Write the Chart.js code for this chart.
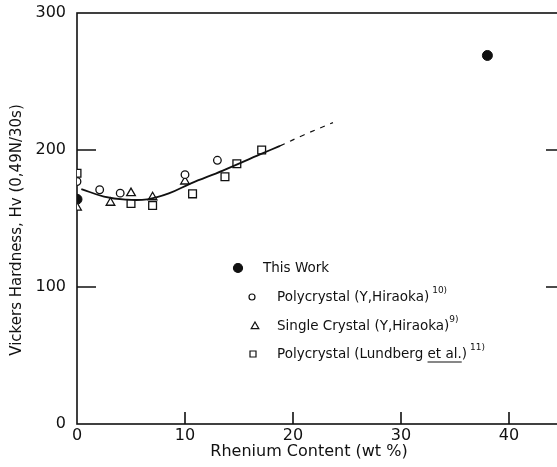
<!DOCTYPE html>
<html>
<head>
<meta charset="utf-8">
<script src="https://cdn.jsdelivr.net/npm/chart.js@4.4.0/dist/chart.umd.min.js"></script>
<style>
html, body { margin: 0; padding: 0; background: #fff; overflow: hidden; }
#wrap { width: 580px; height: 467px; }
</style>
</head>
<body>
<div id="wrap"><canvas id="hardnessChart" width="580" height="467"></canvas></div>
<script>
// values: [Re wt%, Hv]
const thisWork = [[0, 164], [38, 269]];
const polyHiraoka = [[0, 177], [2.1, 171], [4, 168.5], [10, 182], [13, 192.5]];
const singleHiraoka = [[0, 158], [3.1, 161.5], [5, 168.5], [7, 165.5], [10, 177]];
const polyLundberg = [[0, 183], [5, 161], [7, 159.5], [10.7, 168], [13.7, 180.5], [14.8, 190], [17.1, 200]];
const fitSolid = [[0.4, 171.5], [2.5, 166], [4.5, 163.8], [6.5, 164], [8.5, 168.3], [10.5, 175.5], [13.5, 185], [17, 197], [18.8, 203]];
const fitDashed = [[18.8, 203], [21, 211], [23.7, 220]];

const xTicks = [0, 10, 20, 30, 40];
const yTicks = [0, 100, 200, 300];

const legendNames = ['This Work', 'Polycrystal (Y,Hiraoka)', 'Single Crystal (Y,Hiraoka)', 'Polycrystal (Lundberg et al.)'];
const legendRefs = ['', '10)', '9)', '11)'];

function toXY(arr) {
    return arr.map(function(p) { return { x: p[0], y: p[1] }; });
}

function drawMarker(ctx, style, x, y, r, filled) {
    ctx.beginPath();
    if (style === 'circle') {
        ctx.arc(x, y, r, 0, Math.PI * 2);
    } else if (style === 'triangle') {
        ctx.moveTo(x, y - r);
        ctx.lineTo(x + r * 0.95, y + r * 0.65);
        ctx.lineTo(x - r * 0.95, y + r * 0.65);
        ctx.closePath();
    } else {
        ctx.rect(x - r, y - r, r * 2, r * 2);
    }
    ctx.fillStyle = filled ? '#111' : '#fff';
    ctx.fill();
    ctx.stroke();
}

const framePlugin = {
    id: 'frame',
    beforeDatasetsDraw(chart) {
        const ctx = chart.ctx, a = chart.chartArea;
        const x = chart.scales.x, y = chart.scales.y;
        ctx.save();
        ctx.strokeStyle = '#111';
        ctx.lineWidth = 1.6;
        ctx.strokeRect(a.left, a.top, a.right - a.left, a.bottom - a.top);
        ctx.beginPath();
        yTicks.forEach(function(v) {
            if (v <= 0 || v >= 300) return;
            const py = y.getPixelForValue(v);
            ctx.moveTo(a.left, py); ctx.lineTo(a.left + 19, py);
            ctx.moveTo(a.right, py); ctx.lineTo(a.right - 17, py);
        });
        xTicks.forEach(function(v) {
            if (v <= 0) return;
            const px = x.getPixelForValue(v);
            ctx.moveTo(px, a.bottom); ctx.lineTo(px, a.bottom - 12);
        });
        ctx.stroke();
        ctx.restore();
    },
    afterDraw(chart) {
        const ctx = chart.ctx;
        ctx.save();
        ctx.fillStyle = '#111';
        ctx.strokeStyle = '#111';

        // axis titles
        ctx.font = '16px "DejaVu Sans"';
        ctx.textAlign = 'center';
        ctx.textBaseline = 'middle';
        ctx.fillText('Rhenium Content (wt %)', 309, 452);
        ctx.save();
        ctx.translate(17, 230);
        ctx.rotate(-Math.PI / 2);
        ctx.font = '15px "DejaVu Sans"';
        ctx.fillText('Vickers Hardness, Hv (0,49N/30s)', 0, 0);
        ctx.restore();

        // legend
        const rowsY = [268, 297, 326, 354];
        const markers = [
            { style: 'circle', x: 238, r: 4.5, filled: true },
            { style: 'circle', x: 252, r: 3, filled: false },
            { style: 'triangle', x: 255, r: 4, filled: false },
            { style: 'rect', x: 253, r: 3, filled: false }
        ];
        const textX = [263, 277, 277, 277];
        ctx.textAlign = 'left';
        ctx.lineWidth = 1.2;
        legendNames.forEach(function(name, i) {
            const m = markers[i];
            drawMarker(ctx, m.style, m.x, rowsY[i], m.r, m.filled);
            ctx.fillStyle = '#111';
            ctx.font = '13.5px "DejaVu Sans"';
            ctx.textBaseline = 'middle';
            ctx.fillText(name, textX[i], rowsY[i]);
            const w = ctx.measureText(name).width;
            if (name.indexOf('et al.') >= 0) {
                const pre = ctx.measureText(name.slice(0, name.indexOf('et al.'))).width;
                const ul = ctx.measureText('et al.').width;
                ctx.beginPath();
                ctx.moveTo(textX[i] + pre, rowsY[i] + 8);
                ctx.lineTo(textX[i] + pre + ul, rowsY[i] + 8);
                ctx.stroke();
            }
            if (legendRefs[i]) {
                ctx.font = '9px "DejaVu Sans"';
                ctx.fillText(legendRefs[i], textX[i] + w + (i === 2 ? 0 : 3), rowsY[i] - 6);
            }
        });
        ctx.restore();
    }
};

const ctx = document.getElementById('hardnessChart').getContext('2d');
const hardnessChart = new Chart(ctx, {
    type: 'scatter',
    data: {
        datasets: [
            {
                label: 'fit',
                type: 'line',
                data: toXY(fitSolid),
                borderColor: '#111',
                borderWidth: 1.8,
                pointRadius: 0,
                tension: 0.4,
                fill: false
            },
            {
                label: 'fit extrapolated',
                type: 'line',
                data: toXY(fitDashed),
                borderColor: '#111',
                borderWidth: 1.2,
                borderDash: [5, 6],
                pointRadius: 0,
                tension: 0.4,
                fill: false
            },
            {
                label: 'Polycrystal (Y,Hiraoka)',
                data: toXY(polyHiraoka),
                pointStyle: 'circle',
                pointRadius: 3.8,
                borderColor: '#111',
                backgroundColor: '#fff',
                borderWidth: 1.3
            },
            {
                label: 'Single Crystal (Y,Hiraoka)',
                data: toXY(singleHiraoka),
                pointStyle: 'triangle',
                pointRadius: 5,
                borderColor: '#111',
                backgroundColor: '#fff',
                borderWidth: 1.3
            },
            {
                label: 'Polycrystal (Lundberg et al.)',
                data: toXY(polyLundberg),
                pointStyle: 'rect',
                pointRadius: 5.5,
                borderColor: '#111',
                backgroundColor: '#fff',
                borderWidth: 1.3
            },
            {
                label: 'This Work',
                data: toXY(thisWork),
                pointStyle: 'circle',
                pointRadius: 5,
                borderColor: '#111',
                backgroundColor: '#111',
                borderWidth: 1
            }
        ]
    },
    options: {
        responsive: false,
        animation: false,
        layout: { padding: { top: 13, right: 17, left: 0, bottom: 0 } },
        plugins: {
            legend: { display: false },
            tooltip: { enabled: false }
        },
        scales: {
            x: {
                type: 'linear',
                min: 0,
                max: 45,
                afterBuildTicks: function(scale) {
                    scale.ticks = xTicks.map(function(v) { return { value: v }; });
                },
                afterFit: function(scale) {
                    scale.height = 43;
                    scale.paddingLeft = 0;
                    scale.paddingRight = 0;
                },
                grid: { display: false, drawTicks: false },
                border: { display: false },
                ticks: { color: '#111', padding: 2, font: { family: 'DejaVu Sans', size: 16 } }
            },
            y: {
                type: 'linear',
                min: 0,
                max: 300,
                afterBuildTicks: function(scale) {
                    scale.ticks = yTicks.map(function(v) { return { value: v }; });
                },
                afterFit: function(scale) {
                    scale.width = 77;
                    scale.paddingTop = 0;
                    scale.paddingBottom = 0;
                },
                grid: { display: false, drawTicks: false },
                border: { display: false },
                ticks: { color: '#111', padding: 11, font: { family: 'DejaVu Sans', size: 16 } }
            }
        }
    },
    plugins: [framePlugin]
});
</script>
</body>
</html>
